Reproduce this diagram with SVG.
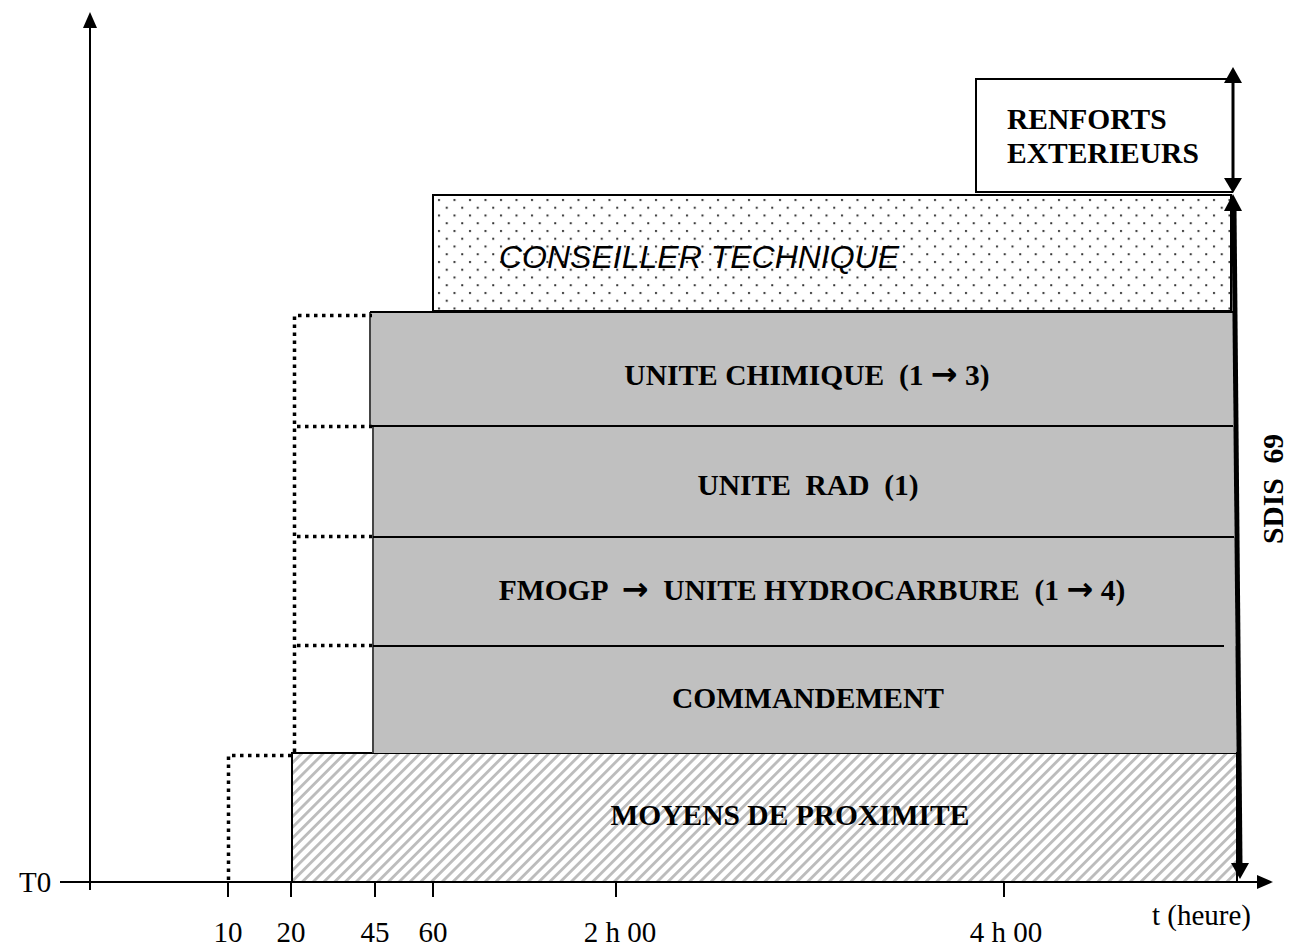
<svg xmlns="http://www.w3.org/2000/svg" width="1289" height="950" viewBox="0 0 1289 950">
<defs>
<style>
.lbl{font-family:"Liberation Serif","Times New Roman",serif;font-weight:bold;font-size:29.5px;fill:#000;white-space:pre}
.arr{font-family:"DejaVu Sans",sans-serif;font-weight:bold;font-size:32px}
.tick{font-family:"Liberation Serif","Times New Roman",serif;font-size:29px;fill:#000;white-space:pre}
.ax{stroke:#000;stroke-width:2;fill:none}
.dot{stroke:#000;stroke-width:3.5;stroke-dasharray:3.5 4.5;fill:none}
.gray{fill:#c0c0c0}
.sep{stroke:#000;stroke-width:2}
</style>
<pattern id="hatch" patternUnits="userSpaceOnUse" width="7.6" height="7.6" patternTransform="rotate(45)">
<rect width="7.6" height="7.6" fill="#fff"/>
<rect x="0" y="0" width="2.8" height="7.6" fill="#bcbcbc"/>
</pattern>
<pattern id="dots" patternUnits="userSpaceOnUse" width="15.5" height="15.5" x="436" y="197">
<rect width="15.5" height="15.5" fill="#fff"/>
<rect x="2" y="2" width="2" height="2" fill="#333"/>
<rect x="9.75" y="9.75" width="2" height="2" fill="#333"/>
</pattern>
</defs>

<g id="axes">
<line class="ax" x1="90" y1="890" x2="90" y2="26"/>
<polygon points="90,12 83,28 97,28" fill="#000"/>
<line class="ax" x1="60" y1="882" x2="1258" y2="882"/>
<polygon points="1273,882 1257,875 1257,889" fill="#000"/>
<line class="ax" x1="228" y1="882" x2="228" y2="897"/>
<line class="ax" x1="291" y1="882" x2="291" y2="897"/>
<line class="ax" x1="375" y1="882" x2="375" y2="897"/>
<line class="ax" x1="433" y1="882" x2="433" y2="897"/>
<line class="ax" x1="616" y1="882" x2="616" y2="897"/>
<line class="ax" x1="1004" y1="882" x2="1004" y2="897"/>
<text class="tick" x="19" y="892">T0</text>
<text class="tick" x="228" y="942" text-anchor="middle">10</text>
<text class="tick" x="291" y="942" text-anchor="middle">20</text>
<text class="tick" x="375" y="942" text-anchor="middle">45</text>
<text class="tick" x="433" y="942" text-anchor="middle">60</text>
<text class="tick" x="620" y="942" text-anchor="middle">2 h 00</text>
<text class="tick" x="1006" y="942" text-anchor="middle">4 h 00</text>
<text class="tick" x="1152" y="925" font-size="30">t (heure)</text>
</g>

<g id="moyens-proximite">
<rect x="292" y="753" width="945" height="129" fill="url(#hatch)" stroke="#000" stroke-width="2"/>
<text class="lbl" x="790" y="825" text-anchor="middle">MOYENS DE PROXIMITE</text>
</g>

<g id="commandement">
<rect class="gray" x="373" y="646" width="863" height="107"/>
<line x1="373" y1="646" x2="373" y2="753" stroke="#444" stroke-width="2"/>
<text class="lbl" x="808" y="708" text-anchor="middle">COMMANDEMENT</text>
</g>

<g id="fmogp">
<rect class="gray" x="373" y="537" width="862" height="109"/>
<line x1="373" y1="537" x2="373" y2="646" stroke="#444" stroke-width="2"/>
<line class="sep" x1="373" y1="646" x2="1224" y2="646"/>
<text class="lbl" x="812" y="600" text-anchor="middle">FMOGP  <tspan class="arr">→</tspan>  UNITE HYDROCARBURE  (1 <tspan class="arr">→</tspan> 4)</text>
</g>

<g id="unite-rad">
<rect class="gray" x="373" y="426" width="861" height="111"/>
<line x1="373" y1="426" x2="373" y2="537" stroke="#444" stroke-width="2"/>
<line class="sep" x1="373" y1="537" x2="1234" y2="537"/>
<text class="lbl" x="808" y="495" text-anchor="middle">UNITE  RAD  (1)</text>
</g>

<g id="unite-chimique">
<rect class="gray" x="370" y="312" width="863" height="114"/>
<line x1="370" y1="312" x2="370" y2="426" stroke="#444" stroke-width="2"/>
<line class="sep" x1="370" y1="312" x2="1233" y2="312"/>
<line class="sep" x1="370" y1="426" x2="1233" y2="426"/>
<text class="lbl" x="807" y="385" text-anchor="middle">UNITE CHIMIQUE  (1 <tspan class="arr">→</tspan> 3)</text>
</g>

<g id="conseiller-technique">
<rect x="433" y="195" width="798" height="116" fill="url(#dots)" stroke="#000" stroke-width="2"/>
<text x="499" y="268" font-family="'Liberation Sans',Arial,sans-serif" font-style="italic" font-size="32" fill="#000">CONSEILLER TECHNIQUE</text>
</g>

<g id="renforts-exterieurs">
<polyline points="1233,79 976,79 976,192 1233,192" fill="#fff" stroke="#000" stroke-width="2"/>
<text class="lbl" x="1007" y="129">RENFORTS</text>
<text class="lbl" x="1007" y="163">EXTERIEURS</text>
</g>

<g id="connectors">
<polyline class="dot" points="228.5,880 228.5,755.5 292,755.5"/>
<polyline class="dot" points="294.5,752 294.5,315.5 372,315.5"/>
<line class="dot" x1="297" y1="426.5" x2="372" y2="426.5"/>
<line class="dot" x1="297" y1="536.5" x2="372" y2="536.5"/>
<line class="dot" x1="297" y1="645.5" x2="372" y2="645.5"/>
<line x1="1233" y1="82" x2="1233" y2="180" stroke="#000" stroke-width="3"/>
<polygon points="1233,67 1224,83 1242,83" fill="#000"/>
<polygon points="1233,193 1224,178 1242,178" fill="#000"/>
<line x1="1234" y1="208" x2="1240" y2="865" stroke="#000" stroke-width="5"/>
<polygon points="1233,194 1224,211 1242,211" fill="#000"/>
<polygon points="1240,879 1231,863 1249,863" fill="#000"/>
<text class="lbl" transform="translate(1283,489) rotate(-90)" text-anchor="middle">SDIS  69</text>
</g>
</svg>
